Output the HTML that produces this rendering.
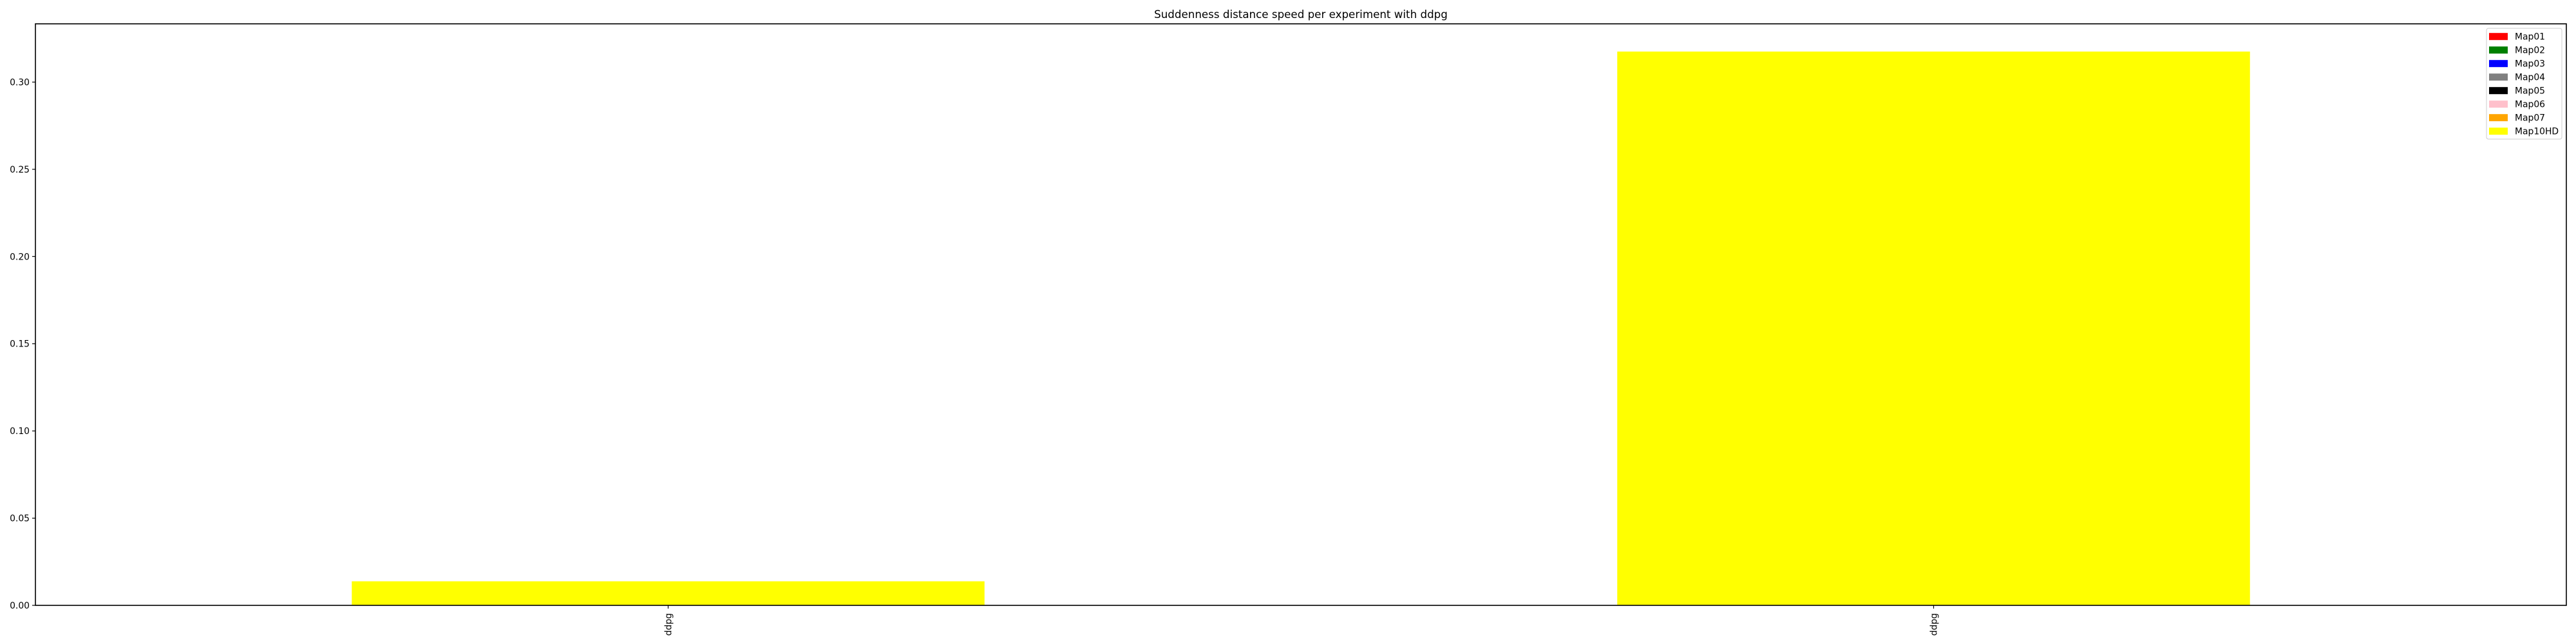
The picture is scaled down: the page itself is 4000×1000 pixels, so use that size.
<!DOCTYPE html>
<html><head><meta charset="utf-8"><style>
body{margin:0;background:#fff}
svg{display:block;font-family:"DejaVu Sans","Liberation Sans",sans-serif}
</style></head><body>
<svg id="chart" width="4000" height="1000" viewBox="0 0 4000 1000">
<rect x="0" y="0" width="4000" height="1000" fill="#fff"/>
<text x="2020" y="28" font-size="16.7" text-anchor="middle">Suddenness distance speed per experiment with ddpg</text>
<g id="bars"></g>
<g id="yaxis"></g>
<g id="xaxis"></g>
<rect x="55" y="37" width="3930" height="903" fill="none" stroke="#000" stroke-width="1.6"/>
<g id="legend"></g>
</svg>
<script>
const categories = ["ddpg", "ddpg"];
const seriesNames = ["Map01","Map02","Map03","Map04","Map05","Map06","Map07","Map10HD"];
const seriesColors = ["red","green","blue","gray","black","pink","orange","yellow"];
const values = [0.0138, 0.3175];
const yTicks = [0.00, 0.05, 0.10, 0.15, 0.20, 0.25, 0.30];
const yTickLabels = ["0.00","0.05","0.10","0.15","0.20","0.25","0.30"];

const NS = "http://www.w3.org/2000/svg";
const L = 55, R = 3985, T = 37, B = 940;
const yMax = 0.3334;
const xMin = -0.5, xMax = categories.length - 0.5;
function xs(v){ return L + (v - xMin) / (xMax - xMin) * (R - L); }
function ys(v){ return B - v / yMax * (B - T); }
function mk(tag, attrs, parent){ const e = document.createElementNS(NS, tag); for (const k in attrs) e.setAttribute(k, attrs[k]); parent.appendChild(e); return e; }

const bars = document.getElementById('bars');
values.forEach((v, i) => {
  const r = mk('rect', {x: xs(i - 0.25), y: ys(v), width: xs(i + 0.25) - xs(i - 0.25), height: ys(0) - ys(v), fill: seriesColors[7]}, bars);
  
  
});

const ya = document.getElementById('yaxis');
yTicks.forEach((t, i) => {
  const y = ys(t);
  const ln = mk('line', {x1: L - 5, x2: L, y1: y, y2: y, stroke: '#000', 'stroke-width': 1.2}, ya);
  
  
  const tx = mk('text', {x: L - 9, y: y + 5, 'font-size': 13.9, 'text-anchor': 'end'}, ya);
  tx.textContent = yTickLabels[i];
  
  
});

const xa = document.getElementById('xaxis');
categories.forEach((c, i) => {
  const x = xs(i);
  const ln = mk('line', {x1: x, x2: x, y1: B, y2: B + 5, stroke: '#000', 'stroke-width': 1.2}, xa);
  
  
  const tx = mk('text', {x: 0, y: 0, 'font-size': 13.9, 'text-anchor': 'end', transform: 'translate(' + (x + 5) + ',' + (B + 12) + ') rotate(-90)'}, xa);
  tx.textContent = c;
  
  
});

const lg = document.getElementById('legend');
const box = mk('rect', {x: 3861, y: 44, width: 117, height: 172, rx: 3, fill: '#fff', stroke: '#ccc', 'stroke-width': 1}, lg);


seriesNames.forEach((n, i) => {
  const y = 56.7 + i * 21;
  const p = mk('rect', {x: 3865, y: y - 5.5, width: 29, height: 11, fill: seriesColors[i]}, lg);
  
  
  const t = mk('text', {x: 3905, y: y + 5, 'font-size': 13.9}, lg);
  t.textContent = n;
  
  
});
</script>
</body></html>
